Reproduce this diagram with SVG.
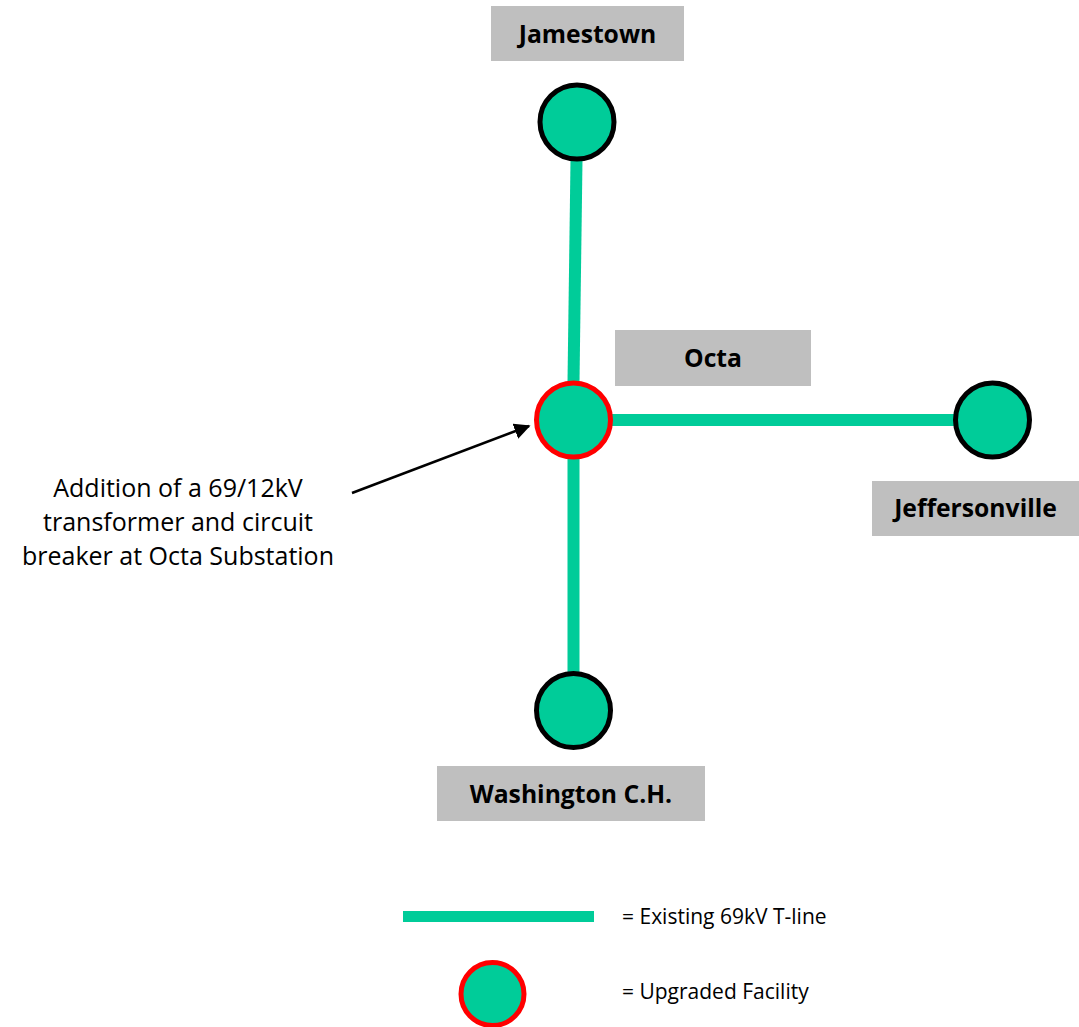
<svg xmlns="http://www.w3.org/2000/svg" width="1079" height="1027" viewBox="0 0 1079 1027">
<style>
.lbl{fill:#BFBFBF}
.lt{font-family:"Open Sans","Liberation Sans",Arial,sans-serif;font-weight:bold;font-size:24.7px;fill:#000;text-anchor:middle}
.tline{stroke:#00CC99;stroke-width:12;fill:none}
.sub{fill:#00CC99;stroke:#000;stroke-width:5}
.up{fill:#00CC99;stroke:#FF0000;stroke-width:5}
.note{font-family:"Open Sans","Liberation Sans",Arial,sans-serif;font-size:25px;fill:#000;text-anchor:middle}
.leg{font-family:"Open Sans","Liberation Sans",Arial,sans-serif;font-size:21px;fill:#000}
</style>
<defs>
<marker id="ah" viewBox="0 0 10 10" refX="9" refY="5" markerWidth="6.5" markerHeight="6.5" orient="auto" markerUnits="strokeWidth">
<path d="M0,0 L10,5 L0,10 z" fill="#000"/>
</marker>
</defs>
<g id="connectors">
<line class="tline" x1="576.5" y1="160" x2="573.5" y2="382"/>
<line class="tline" x1="612" y1="420" x2="954" y2="420"/>
<line class="tline" x1="573.5" y1="458" x2="573.5" y2="672"/>
<line x1="352" y1="493" x2="529" y2="426" stroke="#000" stroke-width="2.5" marker-end="url(#ah)"/>
</g>
<g id="jamestown">
<rect class="lbl" x="491" y="6" width="193" height="55"/>
<text class="lt" x="587.5" y="43">Jamestown</text>
<circle class="sub" cx="577" cy="122" r="37"/>
</g>
<g id="octa">
<rect class="lbl" x="615" y="330" width="196" height="56"/>
<text class="lt" x="713" y="367">Octa</text>
<circle class="up" cx="573.5" cy="420" r="37"/>
</g>
<g id="jeffersonville">
<circle class="sub" cx="992.5" cy="420" r="37"/>
<rect class="lbl" x="872" y="481" width="207" height="55"/>
<text class="lt" x="975.5" y="517">Jeffersonville</text>
</g>
<g id="washington">
<circle class="sub" cx="573.5" cy="710.5" r="37"/>
<rect class="lbl" x="437" y="766" width="268" height="55"/>
<text class="lt" x="571" y="803">Washington C.H.</text>
</g>
<g id="annotation">
<text class="note" x="178" y="497">Addition of a 69/12kV</text>
<text class="note" x="178" y="531">transformer and circuit</text>
<text class="note" x="178" y="565">breaker at Octa Substation</text>
</g>
<g id="legend">
<line x1="403" y1="916.5" x2="594" y2="916.5" stroke="#00CC99" stroke-width="11"/>
<text class="leg" x="622" y="924">= Existing 69kV T-line</text>
<circle class="up" cx="492.5" cy="994" r="31.5"/>
<text class="leg" x="622" y="999">= Upgraded Facility</text>
</g>
</svg>
